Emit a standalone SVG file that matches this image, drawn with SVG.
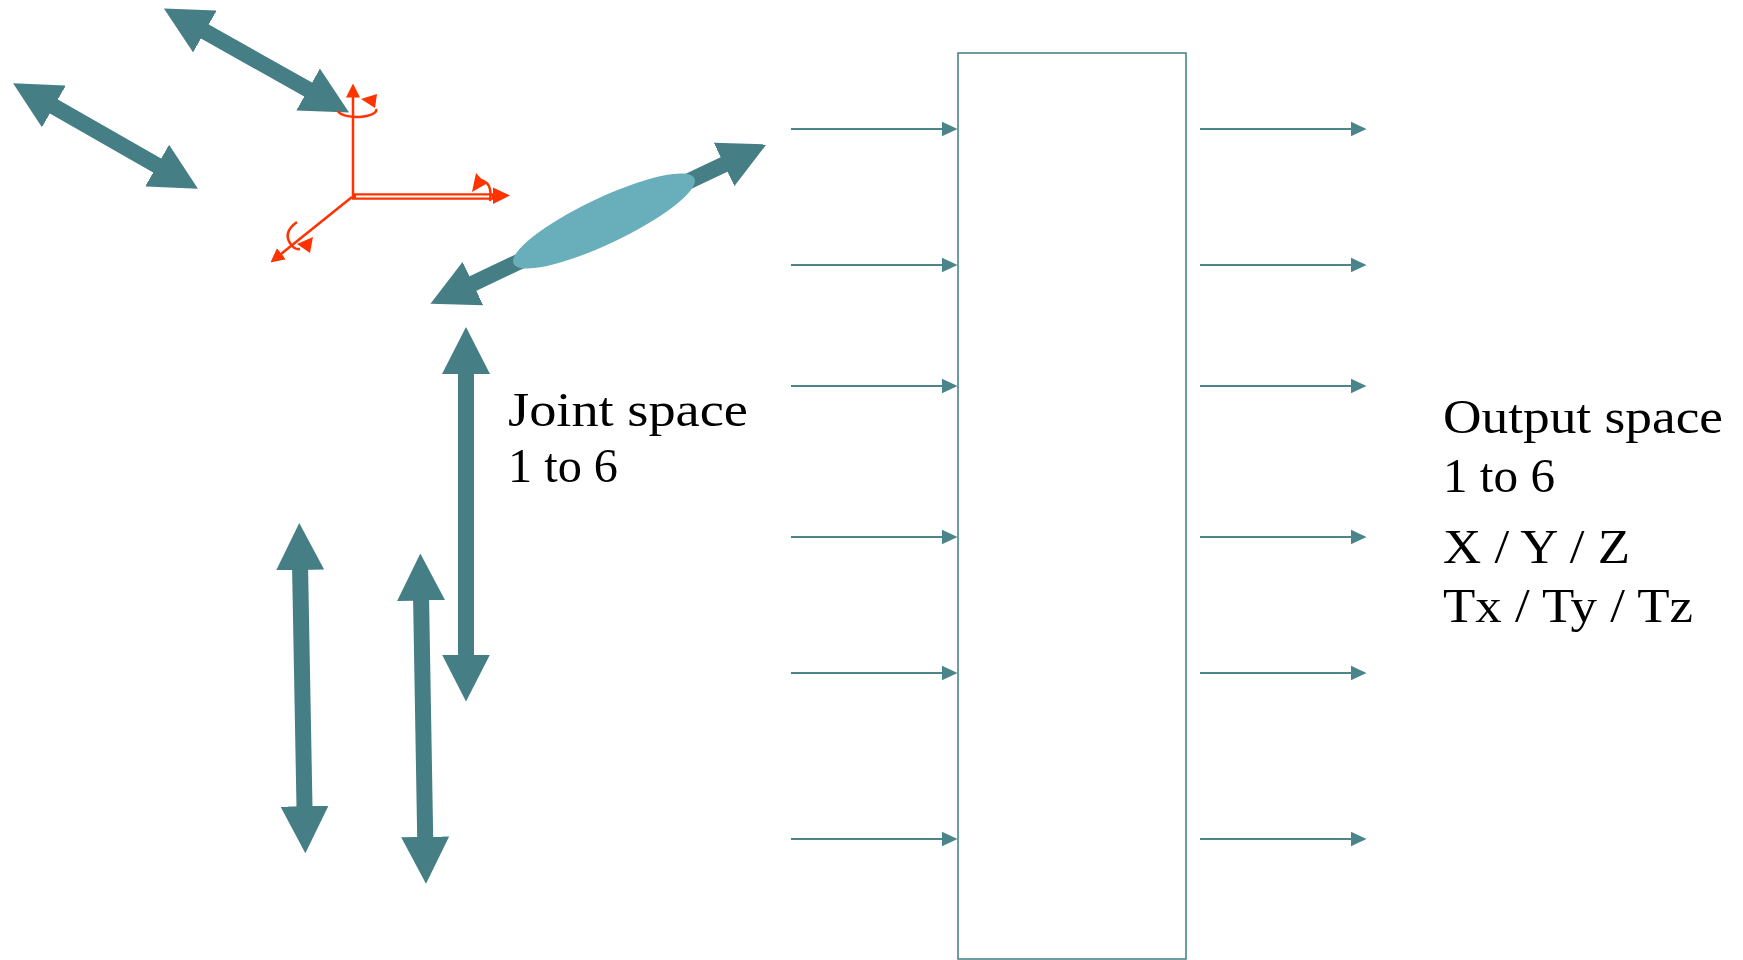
<svg xmlns="http://www.w3.org/2000/svg" width="1743" height="960" viewBox="0 0 1743 960">
  <style>
    .shaft { stroke: #457F85; stroke-width: 16; fill: none; marker-start: url(#headL); marker-end: url(#headL); }
    .link { stroke: #4A8589; stroke-width: 2.2; fill: none; marker-end: url(#tip); }
    .axis { stroke: #FF3300; stroke-width: 2.5; fill: none; }
    .redfill { fill: #FF3300; }
    .label { font-family: Georgia, "Liberation Serif", "DejaVu Serif", serif; font-size: 48px; fill: #000; }
  </style>
  <defs>
    <marker id="headL" markerUnits="userSpaceOnUse" viewBox="0 -24 47 48" markerWidth="47" markerHeight="48" refX="1" refY="0" orient="auto-start-reverse">
      <path d="M0,-24 L47,0 L0,24 Z" fill="#457F85"/>
    </marker>
    <marker id="tip" markerUnits="userSpaceOnUse" viewBox="0 -8 16 16" markerWidth="16" markerHeight="16" refX="0.5" refY="0" orient="auto">
      <path d="M0,-7.5 L16,0 L0,7.5 Z" fill="#4A8589"/>
    </marker>
    <marker id="redTip" markerUnits="userSpaceOnUse" viewBox="0 -8 14 16" markerWidth="14" markerHeight="16" refX="0.5" refY="0" orient="auto">
      <path d="M0,-7 L14,0 L0,7 Z" fill="#FF3300"/>
    </marker>
  </defs>

  <!-- joint axes drawn as thick double-headed arrows -->
  <g id="joint-arrows">
    <line class="shaft" x1="204" y1="31" x2="309" y2="90"/>
    <line class="shaft" x1="53" y1="106" x2="158" y2="166"/>
    <line class="shaft" x1="472" y1="284" x2="725" y2="164"/>
    <ellipse cx="604" cy="221" rx="100" ry="23" transform="rotate(-25.3 604 221)" fill="#68AEBB"/>
    <line class="shaft" x1="466" y1="373" x2="466" y2="655.6"/>
    <line class="shaft" x1="300.1" y1="569" x2="304.5" y2="807.2"/>
    <line class="shaft" x1="421.1" y1="599.6" x2="425.2" y2="837.8"/>
  </g>

  <!-- reference frame with rotation indicators -->
  <g id="frame">
    <line class="axis" x1="353" y1="197" x2="353" y2="97" marker-end="url(#redTip)"/>
    <line x1="352" y1="196.5" x2="494" y2="196.5" stroke="#FF3300" stroke-width="6.5"/>
    <line x1="356" y1="196.5" x2="492" y2="196.5" stroke="#FFFFFF" stroke-width="1.8"/>
    <polygon class="redfill" points="493,187.5 510,195.5 493,204"/>
    <line class="axis" x1="352" y1="197" x2="281" y2="254" marker-end="url(#redTip)"/>
    <!-- rotation about vertical axis -->
    <path class="axis" d="M338,111 A19,7 0 0 0 376,109"/>
    <polygon class="redfill" points="361,99 377,94 375,108"/>
    <!-- rotation about horizontal axis -->
    <path class="axis" d="M479,180 Q493,181 490,201"/>
    <polygon class="redfill" points="476,173 472,192 486,184"/>
    <!-- rotation about depth axis -->
    <path class="axis" d="M297,222 Q283,232 290,243 Q294,250 300,249"/>
    <polygon class="redfill" points="297,244 313,237 310,253"/>
  </g>

  <g id="joint-label">
    <text class="label" x="508" y="426" textLength="240" lengthAdjust="spacingAndGlyphs">Joint space</text>
    <text class="label" x="508" y="482" textLength="110" lengthAdjust="spacingAndGlyphs">1 to 6</text>
  </g>

  <!-- transform block -->
  <g id="block">
    <rect x="958" y="53" width="228" height="906" fill="#FFFFFF" stroke="#4A8589" stroke-width="1.6"/>
  </g>

  <g id="output-label">
    <text class="label" x="1443" y="433" textLength="280" lengthAdjust="spacingAndGlyphs">Output space</text>
    <text class="label" x="1443" y="492" textLength="112" lengthAdjust="spacingAndGlyphs">1 to 6</text>
    <text class="label" x="1443" y="563" textLength="187" lengthAdjust="spacingAndGlyphs">X / Y / Z</text>
    <text class="label" x="1443" y="622" textLength="250" lengthAdjust="spacingAndGlyphs">Tx / Ty / Tz</text>
  </g>

  <!-- input and output signal connectors -->
  <g id="connectors">
    <line class="link" x1="791" y1="129" x2="942" y2="129"/>
    <line class="link" x1="791" y1="265" x2="942" y2="265"/>
    <line class="link" x1="791" y1="386" x2="942" y2="386"/>
    <line class="link" x1="791" y1="537" x2="942" y2="537"/>
    <line class="link" x1="791" y1="673" x2="942" y2="673"/>
    <line class="link" x1="791" y1="839" x2="942" y2="839"/>
    <line class="link" x1="1200" y1="129" x2="1351" y2="129"/>
    <line class="link" x1="1200" y1="265" x2="1351" y2="265"/>
    <line class="link" x1="1200" y1="386" x2="1351" y2="386"/>
    <line class="link" x1="1200" y1="537" x2="1351" y2="537"/>
    <line class="link" x1="1200" y1="673" x2="1351" y2="673"/>
    <line class="link" x1="1200" y1="839" x2="1351" y2="839"/>
  </g>
</svg>
